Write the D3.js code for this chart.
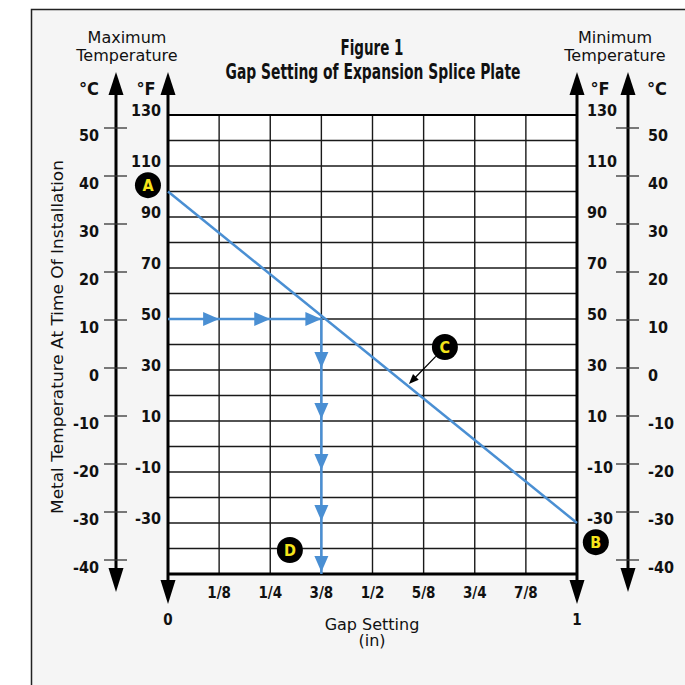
<!DOCTYPE html>
<html>
<head>
<meta charset="utf-8">
<script src="https://cdn.jsdelivr.net/npm/d3@7"></script>
<style>
  body { margin: 0; background: #fff; }
  text { font-family: "DejaVu Sans", sans-serif; fill: #111; }
  .num { font-family: "DejaVu Sans Condensed", "DejaVu Sans", sans-serif; font-stretch: condensed; font-weight: bold; }
  .ttl { font-family: "Liberation Sans Narrow", "DejaVu Sans Condensed", sans-serif; font-weight: bold; }
</style>
</head>
<body>
<div id="viz"></div>
<script>
// axis labels
var fTicks = [130, 110, 90, 70, 50, 30, 10, -10, -30];
var cTicks = [50, 40, 30, 20, 10, 0, -10, -20, -30, -40];
var gapValues = [1/8, 2/8, 3/8, 4/8, 5/8, 6/8, 7/8];
var gapLabels = ["1/8", "1/4", "3/8", "1/2", "5/8", "3/4", "7/8"];

// the setting line, A (max temp) to B (min temp)
var settingLine = [{gap: 0, temp: 100}, {gap: 1, temp: -30}];

// worked example: arrow tips along 50 F, then down at 3/8
var exampleTemp = 50;
var exampleGap = 3/8;
var rightTips = [1/8, 1/4, 3/8];
var downTips = [30, 10, -10, -30, -50];

// callout circles
var markers = [
  {name: "A", gap: -0.049, temp: 102.5},
  {name: "B", gap: 1.046, temp: -37.5},
  {name: "C", gap: 0.677, temp: 39},
  {name: "D", gap: 0.298, temp: -40.6}
];
var pointerC = {gap: 0.589, temp: 24.5};

var W = 685, H = 685;
var blue = "#4a8fd3";

var svg = d3.select("#viz").append("svg")
  .attr("width", W)
  .attr("height", H);

// frame
svg.append("rect")
  .attr("x", 31.5).attr("y", 9.5)
  .attr("width", 700).attr("height", 700)
  .attr("fill", "#f5f5f5")
  .attr("stroke", "#222")
  .attr("stroke-width", 1.5);

var x = d3.scaleLinear().domain([0, 1]).range([168, 577]);
var y = d3.scaleLinear().domain([130, -50]).range([115, 574]);
var c = d3.scaleLinear().domain([50, -40]).range([128, 560]);

// grid background
svg.append("rect")
  .attr("x", x(0)).attr("y", y(130))
  .attr("width", x(1) - x(0)).attr("height", y(-50) - y(130))
  .attr("fill", "#fff");

svg.append("g").selectAll("line")
  .data(d3.range(120, -50, -10))
  .enter().append("line")
  .attr("x1", x(0)).attr("x2", x(1))
  .attr("y1", function(d){return y(d)})
  .attr("y2", function(d){return y(d)})
  .attr("stroke", "#1a1a1a").attr("stroke-width", 1.4);

svg.append("g").selectAll("line")
  .data(gapValues)
  .enter().append("line")
  .attr("x1", function(d){return x(d)})
  .attr("x2", function(d){return x(d)})
  .attr("y1", y(130)).attr("y2", y(-50))
  .attr("stroke", "#1a1a1a").attr("stroke-width", 1.4);

svg.append("line")
  .attr("x1", x(0)).attr("x2", x(1))
  .attr("y1", y(130)).attr("y2", y(130))
  .attr("stroke", "#000").attr("stroke-width", 2);
svg.append("line")
  .attr("x1", x(0)).attr("x2", x(1))
  .attr("y1", y(-50)).attr("y2", y(-50))
  .attr("stroke", "#000").attr("stroke-width", 3);

// a double-headed vertical axis arrow
function axisArrow(ax, top, bottomTip) {
  var g = svg.append("g");
  g.append("line")
    .attr("x1", ax).attr("x2", ax)
    .attr("y1", top + 10).attr("y2", bottomTip - 10)
    .attr("stroke", "#000").attr("stroke-width", 3);
  g.append("path")
    .attr("d", "M" + ax + "," + top + "L" + (ax - 7.5) + "," + (top + 23) + "L" + (ax + 7.5) + "," + (top + 23) + "Z")
    .attr("fill", "#000");
  g.append("path")
    .attr("d", "M" + ax + "," + bottomTip + "L" + (ax - 7.5) + "," + (bottomTip - 24) + "L" + (ax + 7.5) + "," + (bottomTip - 24) + "Z")
    .attr("fill", "#000");
}

axisArrow(116, 72, 592);
axisArrow(x(0), 72, 604);
axisArrow(x(1), 72, 604);
axisArrow(628, 72, 592);

// celsius ticks
function cAxis(ax, side) {
  var g = svg.append("g");
  g.selectAll("line")
    .data(cTicks)
    .enter().append("line")
    .attr("x1", ax - 12).attr("x2", ax + 11)
    .attr("y1", function(d){return c(d)})
    .attr("y2", function(d){return c(d)})
    .attr("stroke", "#333").attr("stroke-width", 1.3);
  g.selectAll("text")
    .data(cTicks)
    .enter().append("text")
    .attr("class", "num")
    .attr("x", side < 0 ? ax - 17 : ax + 20)
    .attr("y", function(d){return c(d) + 13})
    .attr("text-anchor", side < 0 ? "end" : "start")
    .attr("font-size", 16)
    .text(function(d){return d});
}
cAxis(116, -1);
cAxis(628, 1);

// fahrenheit labels
svg.append("g").selectAll("text")
  .data(fTicks)
  .enter().append("text")
  .attr("class", "num")
  .attr("x", x(0) - 7)
  .attr("y", function(d){return y(d) + 1})
  .attr("text-anchor", "end")
  .attr("font-size", 16)
  .text(function(d){return d});

svg.append("g").selectAll("text")
  .data(fTicks)
  .enter().append("text")
  .attr("class", "num")
  .attr("x", x(1) + 10)
  .attr("y", function(d){return y(d) + 1})
  .attr("text-anchor", "start")
  .attr("font-size", 16)
  .text(function(d){return d});

// gap labels
svg.append("g").selectAll("text")
  .data(gapValues)
  .enter().append("text")
  .attr("class", "num")
  .attr("x", function(d){return x(d)})
  .attr("y", 598)
  .attr("text-anchor", "middle")
  .attr("font-size", 15)
  .text(function(d, i){return gapLabels[i]});

svg.append("g").selectAll("text")
  .data([0, 1])
  .enter().append("text")
  .attr("class", "num")
  .attr("x", function(d){return x(d)})
  .attr("y", 625)
  .attr("text-anchor", "middle")
  .attr("font-size", 15)
  .text(function(d){return d});

// unit headers
[["°C", 89], ["°F", 146], ["°F", 600], ["°C", 657]].forEach(function(u){
  svg.append("text")
    .attr("class", "num")
    .attr("x", u[1]).attr("y", 95)
    .attr("text-anchor", "middle")
    .attr("font-size", 18)
    .text(u[0]);
});

// titles
function twoLines(cx, lines, y0, dy, size) {
  lines.forEach(function(t, i){
    svg.append("text")
      .attr("x", cx).attr("y", y0 + i * dy)
      .attr("text-anchor", "middle")
      .attr("font-size", size)
      .attr("fill", "#222")
      .text(t);
  });
}
twoLines(127, ["Maximum", "Temperature"], 43, 18, 16);
twoLines(615, ["Minimum", "Temperature"], 43, 18, 16);
twoLines(372, ["Gap Setting", "(in)"], 630, 16, 16);

svg.append("text")
  .attr("class", "ttl")
  .attr("x", 372).attr("y", 55)
  .attr("text-anchor", "middle")
  .attr("font-size", 21)
  .attr("textLength", 63).attr("lengthAdjust", "spacingAndGlyphs")
  .text("Figure 1");
svg.append("text")
  .attr("class", "ttl")
  .attr("x", 373).attr("y", 79)
  .attr("text-anchor", "middle")
  .attr("font-size", 21)
  .attr("textLength", 295).attr("lengthAdjust", "spacingAndGlyphs")
  .text("Gap Setting of Expansion Splice Plate");

svg.append("text")
  .attr("transform", "translate(63,337) rotate(-90)")
  .attr("text-anchor", "middle")
  .attr("font-size", 16.5)
  .attr("fill", "#222")
  .attr("textLength", 354).attr("lengthAdjust", "spacingAndGlyphs")
  .text("Metal Temperature At Time Of Installation");

// setting line
var line = d3.line()
  .x(function(d){return x(d.gap)})
  .y(function(d){return y(d.temp)});

svg.append("path")
  .datum(settingLine)
  .attr("d", line)
  .attr("fill", "none")
  .attr("stroke", blue)
  .attr("stroke-width", 2.5);

// example path
svg.append("path")
  .datum([{gap: 0, temp: exampleTemp}, {gap: exampleGap, temp: exampleTemp}, {gap: exampleGap, temp: -50}])
  .attr("d", line)
  .attr("fill", "none")
  .attr("stroke", blue)
  .attr("stroke-width", 2.5);

svg.append("g").selectAll("path")
  .data(rightTips)
  .enter().append("path")
  .attr("d", function(d){
    var tx = x(d), ty = y(exampleTemp);
    return "M" + tx + "," + ty + "L" + (tx - 16) + "," + (ty - 7) + "L" + (tx - 16) + "," + (ty + 7) + "Z";
  })
  .attr("fill", blue);

svg.append("g").selectAll("path")
  .data(downTips)
  .enter().append("path")
  .attr("d", function(d){
    var tx = x(exampleGap), ty = y(d) - 2;
    return "M" + tx + "," + ty + "L" + (tx - 7) + "," + (ty - 16) + "L" + (tx + 7) + "," + (ty - 16) + "Z";
  })
  .attr("fill", blue);

// pointer from C to the line
var cm = markers[2];
var px = x(pointerC.gap), py = y(pointerC.temp);
var sx = x(cm.gap), sy = y(cm.temp);
var ang = Math.atan2(py - sy, px - sx);
svg.append("line")
  .attr("x1", sx + Math.cos(ang) * 13).attr("y1", sy + Math.sin(ang) * 13)
  .attr("x2", px - Math.cos(ang) * 6).attr("y2", py - Math.sin(ang) * 6)
  .attr("stroke", "#000").attr("stroke-width", 1.3);
svg.append("path")
  .attr("d", "M0,0L-10,-4L-10,4Z")
  .attr("transform", "translate(" + px + "," + py + ") rotate(" + (ang * 180 / Math.PI) + ")")
  .attr("fill", "#000");

// marker circles
var mk = svg.append("g").selectAll("g")
  .data(markers)
  .enter().append("g")
  .attr("transform", function(d){return "translate(" + x(d.gap) + "," + y(d.temp) + ")"});
mk.append("circle")
  .attr("r", 13)
  .attr("fill", "#000");
mk.append("text")
  .attr("class", "num")
  .attr("y", 6)
  .attr("text-anchor", "middle")
  .attr("font-size", 16)
  .style("fill", "#f5e51b")
  .text(function(d){return d.name});
</script>
</body>
</html>
